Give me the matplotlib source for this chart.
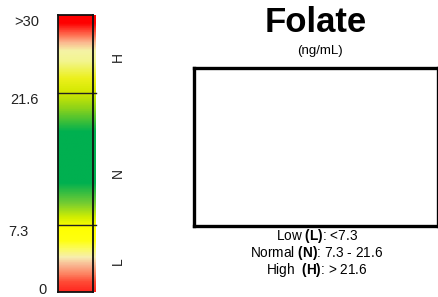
import numpy as np
import matplotlib
matplotlib.use("Agg")
import matplotlib.pyplot as plt
from matplotlib.colors import LinearSegmentedColormap
import matplotlib.transforms as mtransforms

plt.rcParams['font.family'] = ['Liberation Sans', 'DejaVu Sans']
plt.rcParams['mathtext.fontset'] = 'custom'
plt.rcParams['mathtext.rm'] = 'Liberation Sans'
plt.rcParams['mathtext.bf'] = 'Liberation Sans:bold'

# scale data
vmin, vmax = 0, 30
low_cut, high_cut = 7.3, 21.6
tick_values = [30, 21.6, 7.3, 0.2]
tick_labels = [">30", "21.6", "7.3", "0"]
zone_letters = ["H", "N", "L"]
zone_letter_y = [25.5, 12.9, 3.3]

# gradient stops (value, colour)
stop_values = [0, 1.0, 2.0, 2.9, 3.7, 4.6, 5.5, 7.0, 8.0, 9.6, 11.8, 17.4,
               20.0, 21.6, 23.2, 25.1, 26.2, 27.1, 27.8, 29.2, 30]
stop_colors = ["#ff2820", "#ff4a35", "#fd8a68", "#f9b994", "#f7eeb0", "#fbfb60",
               "#ffff10", "#ffff00", "#d4ef00", "#74cc32", "#00b050", "#00b050",
               "#90d418", "#d2e800", "#ecf01c", "#f3f590", "#f5f3a5", "#fbb890",
               "#fe7a5a", "#ff0000", "#ff0000"]

title = "Folate"
units = "(ng/mL)"
legend_lines = [r"Low $\mathbf{(L)}$: <7.3",
                r"Normal $\mathbf{(N)}$: 7.3 - 21.6",
                r"High  $\mathbf{(H)}$: > 21.6"]

fig = plt.figure(figsize=(4.39, 2.97), dpi=100)

# colour bar
ax = fig.add_axes([58 / 439, 5 / 297, 35 / 439, 277 / 297])
cmap = LinearSegmentedColormap.from_list(
    "folate", list(zip(np.array(stop_values) / vmax, stop_colors)))
grad = np.linspace(vmin, vmax, 400).reshape(-1, 1)
ax.imshow(grad, cmap=cmap, vmin=vmin, vmax=vmax, aspect='auto',
          origin='lower', extent=[0, 1.06, vmin, vmax], clip_on=False,
          interpolation='bilinear')
ax.set_xlim(0, 1)
ax.set_ylim(vmin, vmax)
for sp in ax.spines.values():
    sp.set_linewidth(1.3)
    sp.set_color("#111111")
ax.set_xticks([])
ax.set_yticks([])
for v in [low_cut, high_cut]:
    ax.plot([0, 1.09], [v, v], color="#222222", lw=1.0, clip_on=False)

trans = mtransforms.blended_transform_factory(ax.transAxes, ax.transData)
label_x = [-0.54, -0.54, -1.43, -0.45]
label_ha = ['right', 'right', 'left', 'center']
label_va = ['top', 'top', 'top', 'center']
for v, t, x, ha, va in zip(tick_values, tick_labels, label_x, label_ha, label_va):
    ax.text(x, v, t, transform=trans, ha=ha, va=va, fontsize=10.5, color="#222222")
for letter, y in zip(zone_letters, zone_letter_y):
    ax.text(1.71, y, letter, transform=trans, ha='center', va='center',
            rotation=90, fontsize=10, color="#222222")

# titles
fig.text(316 / 439, 1 - 23 / 297, title, ha='center', va='center',
         fontsize=25, fontweight='bold')
fig.text(320 / 439, 1 - 51 / 297, units, ha='center', va='center', fontsize=9.5)

# empty box
bx = fig.add_axes([194 / 439, 71 / 297, 244 / 439, 158 / 297])
bx.set_xticks([])
bx.set_yticks([])
for sp in bx.spines.values():
    sp.set_linewidth(2.4)

for i, line in enumerate(legend_lines):
    fig.text(317 / 439, 1 - (236 + 17 * i) / 297, line, ha='center',
             va='center', fontsize=9.8)

fig.savefig("out.png", dpi=100)
